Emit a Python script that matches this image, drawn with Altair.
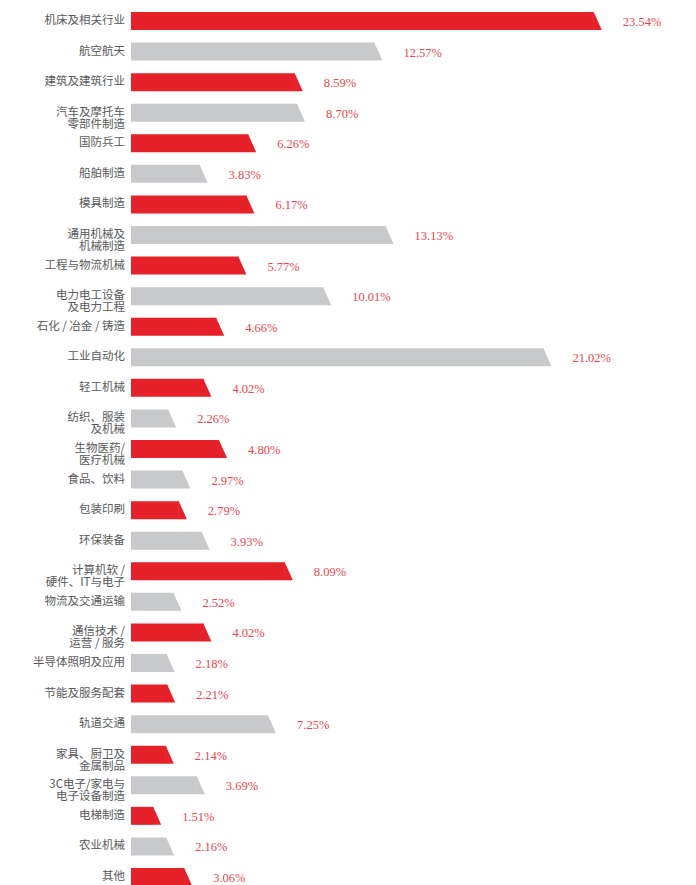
import altair as alt
import pandas as pd

categories = [
    "机床及相关行业", "航空航天", "建筑及建筑行业", "汽车及摩托车\n零部件制造", "国防兵工",
    "船舶制造", "模具制造", "通用机械及\n机械制造", "工程与物流机械", "电力电工设备\n及电力工程",
    "石化 / 冶金 / 铸造", "工业自动化", "轻工机械", "纺织、服装\n及机械", "生物医药/\n医疗机械",
    "食品、饮料", "包装印刷", "环保装备", "计算机软 /\n硬件、IT与电子", "物流及交通运输",
    "通信技术 /\n运营 / 服务", "半导体照明及应用", "节能及服务配套", "轨道交通", "家具、厨卫及\n金属制品",
    "3C电子/家电与\n电子设备制造", "电梯制造", "农业机械", "其他",
]
values = [
    23.54, 12.57, 8.59, 8.70, 6.26,
    3.83, 6.17, 13.13, 5.77, 10.01,
    4.66, 21.02, 4.02, 2.26, 4.80,
    2.97, 2.79, 3.93, 8.09, 2.52,
    4.02, 2.18, 2.21, 7.25, 2.14,
    3.69, 1.51, 2.16, 3.06,
]

RED = "#E52129"
GREY = "#C8C9CB"
LABEL_RED = "#E8464E"

df = pd.DataFrame({
    "cat": categories,
    "value": values,
    "idx": list(range(len(categories))),
})
df["label"] = df["value"].map(lambda v: f"{v:.2f}%")

n = len(categories)
xs = alt.Scale(domain=[0, 28.25], nice=False, zero=True, padding=0)
ys = alt.Scale(domain=[0, n - 1], range=[21, 877], nice=False, zero=False, padding=0)

color = alt.condition("datum.idx % 2 == 0", alt.value(RED), alt.value(GREY))

base = alt.Chart(df).transform_calculate(start="0")

bars = base.mark_bar(height=18, xOffset=-8, strokeWidth=0).encode(
    x=alt.X("value:Q", scale=xs, axis=None),
    x2="start:Q",
    y=alt.Y("idx:Q", scale=ys, axis=None),
    color=color,
)

tri = base.mark_point(
    shape="M-0.95,-1 L-0.889,-1 L0,1 L-0.95,1 Z",
    size=324, filled=True, opacity=1, strokeWidth=0,
).encode(
    x=alt.X("value:Q", scale=xs, axis=None),
    y=alt.Y("idx:Q", scale=ys, axis=None),
    color=color,
)

vals = base.mark_text(
    align="left", baseline="middle", dx=21, dy=1,
    font="Liberation Serif", fontSize=12.5, color=LABEL_RED,
).encode(
    x=alt.X("value:Q", scale=xs, axis=None),
    y=alt.Y("idx:Q", scale=ys, axis=None),
    text="label:N",
)

cats = base.mark_text(
    align="right", baseline="middle", lineBreak="\n", lineHeight=12,
    font="Noto Sans CJK SC", fontSize=11.5, color="#58595B",
).encode(
    x=alt.value(-6),
    y=alt.Y("idx:Q", scale=ys, axis=None),
    text="cat:N",
)

chart = alt.layer(bars, tri, vals, cats).properties(
    width=565, height=885,
    autosize=alt.AutoSizeParams(type="none"),
    padding={"left": 131, "top": 0, "right": 0, "bottom": 0},
    background="white",
).configure_view(stroke=None)

chart.save("out.html", embed_options={"renderer": "svg", "actions": False})
